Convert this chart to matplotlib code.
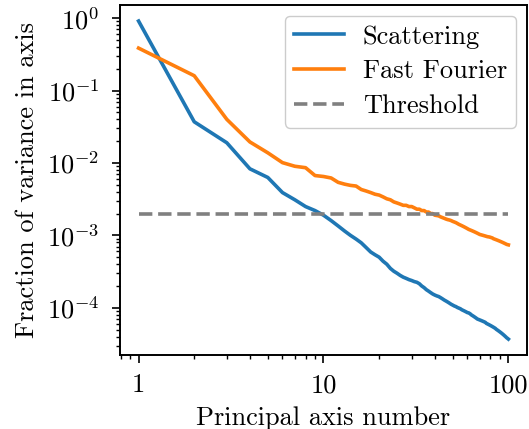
import matplotlib
matplotlib.use("Agg")
import matplotlib.pyplot as plt
from matplotlib.ticker import FixedLocator, FixedFormatter, NullFormatter

plt.rcParams["font.family"] = "cmr10"
plt.rcParams["mathtext.fontset"] = "cm"
plt.rcParams["axes.formatter.use_mathtext"] = True
plt.rcParams["axes.unicode_minus"] = False

components = list(range(1, 101))

scattering = [
    0.91, 0.037, 0.019, 0.0083, 0.0063, 0.0039, 0.0031, 0.0025, 0.0022, 0.0019,
    0.0016, 0.00135, 0.00115, 0.001, 0.00089, 0.00079, 0.00068, 0.00059, 0.00054, 0.0005,
    0.00044, 0.0004, 0.00035, 0.00032, 0.0003, 0.00028, 0.000265, 0.000255, 0.000245, 0.000238,
    0.00023, 0.000225, 0.000215, 0.0002, 0.00019, 0.000178, 0.00017, 0.000162, 0.000155, 0.00015,
    0.000146, 0.000143, 0.000138, 0.000133, 0.000128, 0.000124, 0.00012, 0.000116, 0.000112, 0.000109,
    0.000106, 0.000104, 0.000101, 9.9e-5, 9.7e-5, 9.4e-5, 9.2e-5, 9.0e-5, 8.8e-5, 8.6e-5,
    8.5e-5, 8.3e-5, 8.0e-5, 7.8e-5, 7.6e-5, 7.4e-5, 7.2e-5, 7.0e-5, 6.9e-5, 6.8e-5,
    6.7e-5, 6.6e-5, 6.5e-5, 6.4e-5, 6.3e-5, 6.1e-5, 6.0e-5, 5.9e-5, 5.8e-5, 5.7e-5,
    5.6e-5, 5.5e-5, 5.4e-5, 5.3e-5, 5.2e-5, 5.05e-5, 4.95e-5, 4.85e-5, 4.75e-5, 4.65e-5,
    4.55e-5, 4.45e-5, 4.35e-5, 4.25e-5, 4.15e-5, 4.05e-5, 3.95e-5, 3.85e-5, 3.78e-5, 3.7e-5,
]

fast_fourier = [
    0.385, 0.16, 0.04, 0.0195, 0.0138, 0.0101, 0.009, 0.0086, 0.0067, 0.0065,
    0.0062, 0.0054, 0.0051, 0.0049, 0.0048, 0.0043, 0.0041, 0.0039, 0.0037, 0.0036,
    0.0034, 0.0032, 0.0031, 0.0029, 0.0028, 0.0027, 0.0026, 0.0026, 0.0025, 0.0025,
    0.0024, 0.0023, 0.0023, 0.0022, 0.0022, 0.0021, 0.0021, 0.002, 0.002, 0.0019,
    0.00188, 0.00186, 0.0018, 0.00176, 0.00172, 0.00168, 0.00165, 0.00163, 0.0016, 0.00156,
    0.00153, 0.0015, 0.00146, 0.00142, 0.00139, 0.00136, 0.00133, 0.0013, 0.00127, 0.00124,
    0.00121, 0.00119, 0.00117, 0.00115, 0.00113, 0.00111, 0.00109, 0.00107, 0.00105, 0.00103,
    0.00102, 0.00101, 0.001, 0.00099, 0.00098, 0.00097, 0.00096, 0.000955, 0.00095, 0.00094,
    0.00093, 0.00092, 0.0009, 0.00089, 0.00088, 0.00087, 0.00086, 0.00085, 0.00084, 0.00083,
    0.00082, 0.00081, 0.0008, 0.00079, 0.00078, 0.00077, 0.00076, 0.00075, 0.000745, 0.00074,
]

threshold = 0.002

x_ticks = [1, 10, 100]
x_tick_labels = ["1", "10", "100"]

fig = plt.figure(figsize=(5.29, 4.29), dpi=100)
ax = fig.add_axes([0.227, 0.1725, 0.769, 0.8155])

ax.plot(components, scattering, color="#1f77b4", lw=2.6, label="Scattering")
ax.plot(components, fast_fourier, color="#ff7f0e", lw=2.6, label="Fast Fourier")
ax.plot([components[0], components[-1]], [threshold, threshold], color="grey",
        lw=2.6, ls="--", label="Threshold")

ax.set_xscale("log")
ax.set_yscale("log")
ax.xaxis.set_major_locator(FixedLocator(x_ticks))
ax.xaxis.set_major_formatter(FixedFormatter(x_tick_labels))
ax.xaxis.set_minor_formatter(NullFormatter())

ax.set_xlabel("Principal axis number", fontsize=19, labelpad=6.5)
ax.set_ylabel("Fraction of variance in axis", fontsize=19, labelpad=6)
ax.tick_params(which="major", labelsize=19, length=5.8, width=1.2)
ax.tick_params(which="minor", length=3, width=1.0)
ax.tick_params(axis="x", which="major", pad=7.5)
ax.tick_params(axis="y", which="major", pad=9)
for sp in ax.spines.values():
    sp.set_linewidth(1.4)

ax.legend(loc="upper right", fontsize=19, framealpha=1.0, edgecolor="#cccccc",
          handlelength=1.9, handletextpad=0.7, labelspacing=0.42,
          borderpad=0.35, borderaxespad=0.4)

fig.savefig("out.png", dpi=100)
